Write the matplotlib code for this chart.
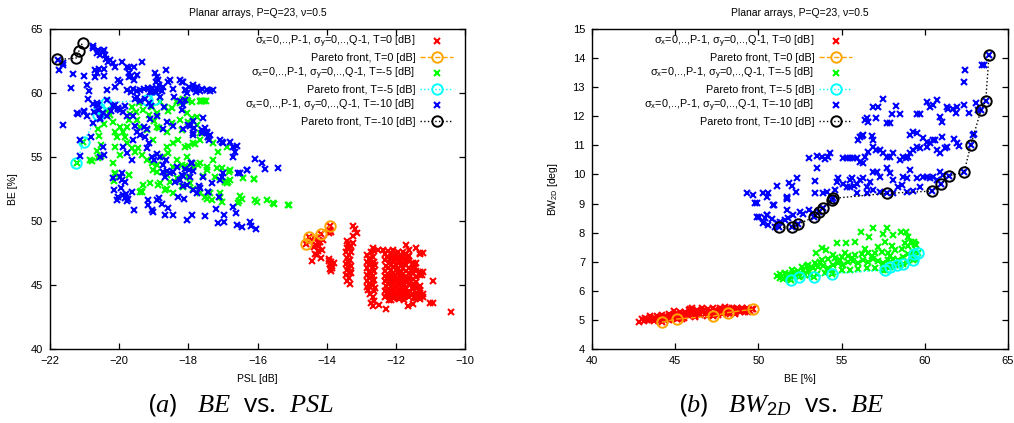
import matplotlib
matplotlib.use("Agg")
import matplotlib.pyplot as plt

plt.rcParams['font.family'] = ['Liberation Sans', 'DejaVu Sans']
plt.rcParams['mathtext.fontset'] = 'custom'
plt.rcParams['mathtext.rm'] = 'Liberation Sans'
plt.rcParams['mathtext.it'] = 'Liberation Serif:italic'
plt.rcParams['mathtext.bf'] = 'Liberation Sans:bold'

# ---------------- Panel (a): BE vs PSL ----------------
# T = 0 dB  (red)
psl_a_T0 = [-14.60, -14.50, -14.17, -13.90, -14.31, -14.24, -14.37, -14.29, -14.17, -14.19, -14.14, -14.41, -14.33, -14.22, -14.12, -14.26, -14.45, -14.35,
            -13.90, -13.92, -13.87, -13.92, -13.88, -13.90, -13.85, -13.91, -13.88, -13.80, -13.93, -13.86,
            -13.42, -13.38, -13.40, -13.43, -13.36, -13.41, -13.33, -13.43, -13.38, -13.41, -13.32, -13.43, -13.35, -13.41, -13.32, -13.30, -13.31, -13.30, -13.31, -13.37, -13.34,
            -13.23, -13.18, -13.11, -13.24, -13.24,
            -12.83, -12.78, -12.84, -12.79, -12.82, -12.77, -12.83, -12.79, -12.84, -12.78, -12.82, -12.80, -12.76, -12.74, -12.73,
            -12.66, -12.63, -12.67, -12.62, -12.66, -12.63, -12.67, -12.62, -12.66, -12.63, -12.67, -12.64, -12.66, -12.60, -12.61,
            -12.51, -12.36, -12.49, -12.28,
            -12.30, -12.31, -12.29, -12.30, -12.32, -12.30, -12.29, -12.31, -12.30,
            -12.22, -12.23, -12.21, -12.22, -12.24, -12.22, -12.21, -12.23, -12.22, -12.21,
            -12.15, -12.16, -12.14, -12.15, -12.15, -12.16, -12.14, -12.15, -12.16, -12.14,
            -12.08, -12.07, -12.09, -12.08, -12.07, -12.08, -12.09, -12.08, -12.07, -12.08,
            -12.00, -12.01, -11.99, -12.00, -12.01, -12.00, -11.99, -12.00, -12.01,
            -11.93, -11.94, -11.92, -11.93, -11.94, -11.93, -11.92, -11.93, -11.94, -11.92,
            -11.86, -11.87, -11.85, -11.86, -11.87, -11.86, -11.85, -11.86, -11.87,
            -11.78, -11.79, -11.77, -11.78, -11.79, -11.78, -11.77, -11.78, -11.79, -11.77,
            -11.70, -11.71, -11.69, -11.70, -11.71, -11.70, -11.69, -11.70, -11.71,
            -11.62, -11.63, -11.61, -11.62, -11.63, -11.62, -11.61, -11.62, -11.63, -11.64,
            -11.50, -11.51, -11.49, -11.50, -11.51, -11.50, -11.49, -11.50,
            -11.42, -11.43, -11.41, -11.42, -11.43, -11.42, -11.41, -11.42,
            -11.30, -11.29, -11.31, -11.30, -11.29, -11.31, -11.30, -11.29, -11.31,
            -11.22, -11.22, -11.23, -11.21, -11.22,
            -10.92, -11.01, -10.92, -10.41,
            -12.26, -12.18, -12.11, -12.04, -11.97, -11.90, -11.82, -11.74, -11.66, -12.26, -12.18, -12.11, -12.04, -11.97, -11.90, -11.82, -11.74, -11.66,
            -12.26, -12.18, -12.11, -12.04, -11.97, -11.90, -11.82, -11.74, -11.66, -12.72, -12.70, -12.71, -11.46, -11.46, -11.47]
be_a_T0 = [48.18, 48.77, 48.98, 49.61, 48.12, 48.26, 47.99, 47.34, 47.09, 48.38, 47.73, 46.87, 47.45, 48.05, 48.52, 47.62, 48.45, 48.60,
           49.32, 49.05, 49.15, 47.02, 46.80, 46.62, 46.45, 46.27, 46.10, 46.70, 46.90, 46.35,
           48.42, 48.18, 47.88, 47.60, 47.31, 47.08, 46.92, 46.62, 46.41, 46.18, 46.01, 45.82, 45.58, 45.32, 45.10, 45.92, 46.52, 47.58, 48.02, 46.85, 47.95,
           49.58, 49.35, 49.10, 48.80, 48.28,
           47.32, 47.05, 46.82, 46.55, 46.31, 46.02, 45.78, 45.52, 45.30, 45.08, 44.82, 44.58, 44.31, 46.70, 45.90,
           47.88, 47.62, 47.15, 46.83, 46.42, 46.12, 45.72, 45.40, 45.02, 44.52, 44.05, 43.72, 43.38, 44.80, 46.60,
           47.73, 47.73, 43.44, 43.15,
           47.40, 46.95, 46.50, 46.10, 45.70, 45.30, 44.90, 44.50, 44.10,
           47.65, 47.20, 46.75, 46.30, 45.85, 45.45, 45.05, 44.60, 44.20, 43.80,
           47.50, 47.05, 46.60, 46.20, 45.80, 45.35, 44.95, 44.55, 44.15, 43.85,
           47.70, 47.25, 46.85, 46.40, 45.95, 45.55, 45.15, 44.75, 44.30, 43.95,
           47.45, 47.00, 46.55, 46.15, 45.75, 45.30, 44.85, 44.45, 44.05,
           47.60, 47.15, 46.70, 46.25, 45.90, 45.50, 45.10, 44.65, 44.25, 43.90,
           47.35, 46.90, 46.45, 46.05, 45.65, 45.20, 44.80, 44.40, 44.00,
           47.55, 47.10, 46.65, 46.30, 45.85, 45.40, 45.00, 44.60, 44.20, 43.80,
           48.13, 47.40, 46.95, 46.55, 46.10, 45.60, 45.20, 44.70, 44.35,
           47.70, 47.25, 46.85, 46.35, 45.90, 45.45, 45.05, 44.55, 44.10, 43.36,
           46.70, 46.30, 45.90, 45.50, 45.10, 44.70, 44.30, 43.50,
           47.87, 46.70, 46.10, 45.60, 45.20, 44.80, 44.40, 44.00,
           47.50, 47.45, 46.05, 45.75, 44.90, 44.60, 44.35, 44.10, 43.90,
           47.48, 46.04, 45.80, 44.30, 44.10,
           45.34, 43.57, 43.57, 42.89,
           47.15, 46.95, 47.30, 47.05, 47.20, 46.90, 47.25, 47.05, 47.30, 45.55, 45.25, 45.60, 45.35, 45.50, 45.20, 45.60, 45.30, 45.55,
           44.35, 44.05, 44.40, 44.10, 44.30, 44.00, 44.45, 44.15, 44.35, 47.55, 45.00, 43.60, 46.30, 45.00, 44.00]

# T = -5 dB (green)
psl_a_T5 = [-20.57, -20.53, -20.84, -20.60, -20.36, -20.27, -20.17, -20.12, -20.07, -19.98, -19.88, -19.83, -19.78, -19.71, -19.69, -19.64, -19.51, -19.42, -19.30, -19.13,
            -19.06, -18.92, -18.82, -18.67, -18.58, -18.48, -18.34, -18.24, -18.05, -17.90, -17.76, -17.66, -17.61, -17.49, -17.90, -18.00, -18.05, -17.76, -17.66, -18.24,
            -18.29, -18.43, -18.63, -18.72, -18.92, -19.06, -19.20, -19.35, -19.45, -19.54, -19.64, -19.78, -19.98, -20.12, -20.12, -20.15, -19.73, -19.40, -19.11, -18.92,
            -18.63, -18.43, -18.19, -18.05, -17.86, -17.66, -17.47, -17.28, -17.18, -17.04, -16.81, -16.80, -16.41, -16.10, -16.07, -15.73, -17.66, -17.42, -17.28, -17.13,
            -16.89, -18.10, -17.86, -18.05, -18.34, -18.58, -19.01, -18.92, -18.48, -18.63, -18.19, -19.20, -19.40, -19.49,
            -16.09, -15.56, -15.11, -16.51, -16.46, -16.55, -16.79, -16.94, -17.23, -17.08, -17.32, -17.37, -17.52, -17.95, -18.00, -18.15, -18.34, -18.53, -18.67,
            -18.82, -19.01, -18.10, -17.71, -17.47, -17.58, -18.00, -17.81,
            -19.32, -19.35, -18.87, -18.63, -18.43, -18.19, -17.86, -17.66, -17.47, -17.08, -17.03, -16.89, -16.84, -16.53, -16.02, -15.52, -15.08,
            -20.65, -20.79, -20.19, -20.12, -19.71, -19.38, -20.53, -21.22, -21.05,
            -20.60, -20.52, -20.45, -18.00, -17.62, -17.55, -18.34, -18.14, -19.00, -18.85]
be_a_T5 = [56.64, 55.94, 54.77, 54.90, 58.67, 58.28, 57.76, 56.98, 56.59, 57.37, 56.98, 56.59, 57.37, 57.89, 58.36, 58.93, 58.54, 59.19, 58.67, 58.28,
           58.93, 58.41, 59.32, 58.93, 58.62, 58.80, 59.32, 59.19, 59.45, 59.32, 58.15, 59.40, 59.40, 59.40, 58.02, 57.76, 58.41, 57.50, 56.85, 57.89,
           56.33, 56.07, 55.81, 55.03, 54.38, 54.51, 54.77, 55.16, 55.68, 55.42, 55.68, 56.07, 55.16, 55.81, 53.67, 53.15, 53.59, 52.29, 53.00, 53.85,
           53.59, 54.24, 54.38, 54.11, 54.24, 54.51, 53.98, 54.77, 54.11, 54.11, 53.85, 53.20, 53.33, 53.25, 51.64, 51.64, 56.33, 56.59, 56.07, 55.42,
           55.81, 55.81, 56.07, 55.03, 54.77, 55.29, 56.33, 57.37, 57.63, 56.98, 57.11, 57.11, 57.37, 57.89,
           53.26, 51.38, 51.25, 51.95, 51.69, 51.38, 53.98, 53.07, 53.41, 51.90, 51.64, 52.16, 51.90, 52.94, 53.41, 52.68, 53.33, 53.07, 52.42,
           52.94, 53.98, 54.30, 54.38, 54.19, 53.52, 55.86, 56.02,
           52.81, 52.29, 52.81, 52.48, 52.16, 52.73, 52.48, 52.21, 51.69, 52.16, 51.51, 52.94, 53.07, 51.59, 51.51, 51.33, 51.25,
           55.50, 54.71, 54.56, 53.72, 53.59, 52.37, 55.08, 54.50, 56.15,
           57.20, 58.30, 57.60, 59.40, 59.40, 59.40, 59.40, 59.53, 57.80, 57.30]

# T = -10 dB (blue)
psl_a_T10 = [-21.76, -21.61, -21.63, -21.73, -21.40, -21.61, -21.34, -21.21, -21.02, -21.13, -21.12, -21.02, -20.92, -20.86, -20.89, -20.82, -20.75, -20.77, -20.75, -20.65,
             -20.60, -20.55, -20.46, -20.44, -20.40, -20.38, -20.70, -20.65, -20.70, -20.57, -20.44, -20.44, -20.31, -20.27, -20.17, -20.12, -19.93, -20.02, -19.98, -20.12,
             -20.34, -20.65, -20.60, -20.57, -20.55, -20.46, -20.36, -20.12, -20.02, -19.98, -19.83, -19.73, -19.71, -19.76, -19.73, -19.67, -19.57, -19.49, -19.57, -19.35,
             -19.78, -19.67, -19.59, -19.49, -19.40, -19.28, -19.16, -19.06, -18.99, -18.92, -18.77,
             -18.96, -18.92, -18.87, -18.94, -18.84, -18.72, -18.65, -18.58, -18.53, -18.45, -18.41, -18.24, -18.19, -18.14,
             -18.10, -18.05, -17.97, -17.86, -17.81, -17.76, -17.66, -17.61, -17.47, -17.37, -17.28,
             -18.19, -18.16, -18.24, -18.10, -18.00, -17.87, -17.84, -17.86, -17.57, -17.61, -17.52, -17.47, -17.45, -17.42, -17.39, -17.37,
             -17.08, -17.04, -16.99, -16.80, -16.70, -16.65, -16.70, -16.60,
             -16.07, -15.88, -15.78, -15.40, -16.31, -16.51,
             -16.55, -16.31, -17.03, -17.93, -17.90, -17.97, -17.86, -18.72, -18.63, -18.67, -18.34, -18.19, -18.10,
             -20.15, -20.02, -20.05, -19.96, -19.90, -19.83, -19.75, -19.78, -19.56, -19.16, -19.16, -19.06, -19.01, -18.91, -18.84, -18.77, -18.67, -18.58, -18.43, -18.29,
             -18.16, -18.12, -18.05, -17.90, -17.76, -17.68, -17.52, -17.42, -17.20, -17.13, -17.10, -16.97, -16.97, -16.70, -16.62, -16.58, -16.46, -16.22, -16.20, -16.04,
             -20.48, -20.55, -20.44, -20.17, -19.93, -19.83, -19.80, -19.64, -19.93, -19.98, -19.88, -19.78, -19.64, -19.59, -19.49, -19.40, -19.28, -19.25, -19.20, -19.13,
             -19.06, -18.99, -18.92, -18.82, -18.72, -18.65, -18.53, -18.43, -18.39, -18.24, -18.16, -18.05, -17.95, -17.87, -17.66, -17.57, -17.42, -17.33, -17.08, -17.01,
             -19.54, -19.47, -19.40, -19.25, -19.11, -19.06, -18.93, -19.13, -19.09, -18.82, -18.70, -19.59, -19.76, -19.88, -20.02, -20.17, -20.25, -20.36, -20.55, -20.73,
             -20.77, -20.65, -20.94, -21.02, -21.18, -19.54, -19.20, -19.11, -18.92, -18.72, -18.61, -18.43, -18.14, -17.95, -17.86, -17.61, -17.78, -17.84, -17.47, -18.07]
be_a_T10 = [62.58, 62.37, 62.19, 61.80, 60.36, 57.50, 61.48, 58.41, 58.54, 56.33, 55.08, 61.33, 60.63, 60.18, 59.50, 56.59, 57.63, 63.67, 63.49, 63.10,
            63.36, 62.97, 63.23, 63.36, 63.00, 62.63, 61.28, 61.54, 61.80, 61.85, 61.85, 61.33, 62.45, 62.58, 62.32, 62.06, 62.45, 61.02, 60.89, 60.50,
            60.23, 59.19, 59.06, 58.67, 58.02, 58.41, 59.45, 59.06, 58.80, 58.67, 58.98, 61.93, 61.54, 62.06, 61.22, 61.33, 62.06, 61.41, 61.02, 62.45,
            60.23, 60.10, 60.29, 60.18, 60.23, 60.29, 60.36, 60.10, 60.18, 60.29, 60.18,
            61.54, 61.28, 61.02, 60.89, 60.63, 60.44, 61.80, 60.89, 61.02, 60.29, 59.71, 61.02, 60.89, 60.89,
            60.23, 59.97, 60.50, 60.63, 60.29, 60.44, 60.18, 60.29, 60.23, 60.18, 60.23,
            58.67, 59.06, 59.40, 59.45, 57.50, 57.84, 57.24, 56.85, 58.02, 57.11, 57.24, 56.98, 56.85, 56.59, 56.33, 56.72,
            56.33, 56.20, 56.07, 56.20, 55.81, 55.42, 55.03, 55.86,
            54.82, 54.51, 54.04, 54.11, 54.00, 53.78,
            53.77, 53.98, 53.41, 54.51, 54.55, 53.98, 53.93, 53.85, 53.91, 53.46, 54.24, 53.59, 54.04,
            52.42, 51.85, 51.64, 52.55, 52.03, 51.77, 51.69, 51.59, 50.86, 51.64, 51.25, 50.86, 50.73, 51.64, 51.77, 51.33, 50.47, 50.99, 50.47, 51.90,
            52.73, 51.69, 50.08, 50.47, 52.16, 52.73, 50.39, 52.29, 50.91, 49.82, 51.90, 49.95, 50.47, 51.12, 50.60, 49.69, 49.56, 49.95, 49.61, 49.35,
            55.81, 55.03, 55.16, 53.33, 53.20, 53.07, 52.11, 52.29, 53.72, 53.46, 55.81, 55.29, 54.77, 56.33, 56.98, 56.72, 57.37, 56.59, 55.68, 56.07,
            55.03, 54.77, 55.23, 55.03, 54.38, 54.77, 53.72, 53.85, 53.07, 53.20, 53.52, 52.81, 53.46, 52.42, 52.55, 53.46, 52.29, 52.94, 53.20, 53.72,
            59.53, 59.66, 59.40, 59.53, 60.05, 60.36, 60.10, 59.22, 58.96, 59.66, 58.88, 58.23, 58.18, 58.49, 58.75, 58.96, 58.62, 58.18, 57.97, 58.49,
            59.14, 59.06, 58.23, 58.62, 58.36, 57.40, 57.19, 57.97, 58.18, 57.19, 57.76, 57.45, 57.19, 57.40, 56.72, 56.88, 60.05, 60.36, 60.26, 60.26]

# Pareto fronts, panel (a)
psl_a_P0 = [-14.60, -14.50, -14.17, -13.90]
be_a_P0 = [48.18, 48.77, 48.98, 49.61]
psl_a_P5 = [-21.24, -21.03, -20.62, -20.57, -20.38, -19.20, -18.96]
be_a_P5 = [54.50, 56.15, 58.28, 58.80, 59.24, 59.45, 59.52]
psl_a_P10 = [-21.79, -21.25, -21.16, -21.06]
be_a_P10 = [62.63, 62.71, 63.30, 63.93]

# ---------------- Panel (b): BW2D vs BE ----------------
be_b_T0 = [42.85, 43.10, 43.20, 43.40, 43.50, 43.60, 43.75, 43.90, 44.00, 44.15, 44.20, 44.35, 44.50, 44.60, 44.70, 44.85, 45.00, 45.10, 45.20, 45.30,
           45.40, 45.50, 45.60, 45.70, 45.80, 45.90, 46.00, 46.10, 46.20, 46.30, 46.40, 46.50, 46.60, 46.70, 46.80, 46.90, 47.00, 47.10, 47.20, 47.30,
           47.40, 47.50, 47.60, 47.70, 47.80, 47.90, 48.00, 48.10, 48.20, 48.30, 48.40, 48.50, 48.60, 48.70, 48.80, 48.90, 49.00, 49.10, 49.20, 49.30,
           49.40, 49.50, 49.60, 43.30, 44.10, 44.90, 45.50, 46.25, 47.05, 47.80, 48.55, 49.35, 45.80, 46.60, 47.45, 48.25, 44.60, 45.40, 46.20, 47.00,
           47.80, 48.60, 49.40, 44.90, 46.00, 44.19, 45.09, 47.29, 48.15, 49.66, 43.00, 43.80, 44.40, 45.25, 46.45, 47.60, 48.90]
bw_b_T0 = [4.93, 4.95, 5.05, 4.98, 5.12, 5.04, 4.96, 5.15, 5.06, 4.98, 5.18, 5.10, 5.02, 5.20, 5.12, 5.05, 5.22, 5.14, 5.06, 5.26,
           5.17, 5.08, 5.28, 5.20, 5.12, 5.38, 5.30, 5.22, 5.14, 5.35, 5.26, 5.18, 5.40, 5.31, 5.22, 5.15, 5.38, 5.30, 5.22, 5.42,
           5.33, 5.25, 5.18, 5.40, 5.32, 5.24, 5.43, 5.35, 5.27, 5.20, 5.40, 5.32, 5.25, 5.42, 5.35, 5.28, 5.40, 5.33, 5.26, 5.41,
           5.35, 5.30, 5.38, 5.00, 5.10, 5.15, 5.20, 5.26, 5.28, 5.36, 5.36, 5.32, 5.33, 5.30, 5.33, 5.40, 4.98, 5.04, 5.10, 5.17,
           5.22, 5.22, 5.28, 5.30, 5.40, 4.92, 5.03, 5.13, 5.25, 5.37, 5.02, 5.08, 5.14, 5.12, 5.24, 5.28, 5.34]

be_b_T5 = [51.10, 51.30, 51.50, 51.70, 51.90, 52.20, 52.50, 52.80, 53.10, 53.50, 54.00, 54.50, 55.00, 55.50, 56.00, 56.50, 57.00, 57.50, 58.00, 58.50, 59.00, 59.40,
           51.30, 51.60, 51.90, 52.10, 52.40, 52.70, 53.00, 53.30, 53.60, 53.90, 54.20, 54.50, 54.80, 55.10, 55.40, 55.70, 56.00, 56.30, 56.60, 56.90, 57.20, 57.50,
           57.80, 58.10, 58.40, 58.70, 59.00, 59.30,
           52.00, 52.60, 53.00, 53.40, 53.80, 54.20, 54.60, 55.00, 55.40, 55.80, 56.20, 56.60, 57.00, 57.40, 57.80, 58.20, 58.60, 59.00, 59.40, 55.20, 56.40, 57.20, 58.00, 58.80,
           53.44, 53.80, 54.06, 54.46, 54.74, 55.27, 55.81, 56.17, 56.66, 56.90, 57.47, 57.60, 57.71, 58.10, 58.55, 58.87, 59.00, 59.20, 59.35, 59.47, 59.50,
           51.96, 52.44, 53.36, 54.42, 57.61, 57.91, 58.31, 58.71, 59.31, 59.37, 59.61, 54.90, 55.60, 56.80, 57.90, 53.70, 52.90]
bw_b_T5 = [6.50, 6.45, 6.42, 6.45, 6.42, 6.50, 6.52, 6.55, 6.55, 6.58, 6.62, 6.65, 6.70, 6.72, 6.75, 6.78, 6.78, 6.72, 6.82, 6.90, 7.00, 7.10,
           6.58, 6.60, 6.55, 6.62, 6.68, 6.72, 6.70, 6.78, 6.82, 6.85, 6.80, 6.90, 6.95, 6.88, 6.98, 7.02, 6.95, 7.05, 6.98, 7.08, 7.02, 6.95,
           7.05, 7.10, 7.05, 7.15, 7.25, 7.35,
           6.72, 6.82, 6.90, 6.95, 7.05, 7.10, 7.12, 7.15, 7.18, 7.22, 7.25, 7.30, 7.30, 7.35, 7.30, 7.40, 7.45, 7.55, 7.60, 7.30, 7.45, 7.50, 7.55, 7.65,
           7.31, 7.46, 7.40, 7.23, 7.65, 7.65, 7.69, 8.03, 7.86, 8.15, 7.95, 7.69, 8.15, 7.92, 8.01, 8.01, 7.84, 7.69, 7.69, 7.58, 7.40,
           6.37, 6.49, 6.49, 6.59, 6.72, 6.81, 6.88, 6.93, 7.05, 7.27, 7.29, 7.05, 7.12, 7.18, 7.20, 6.98, 6.85]

be_b_T10 = [49.33, 49.65, 49.80, 49.94, 50.30, 50.60, 50.50, 50.94, 51.14, 51.70, 51.74, 51.86, 52.00, 52.34, 53.40, 53.40, 53.50, 53.06, 53.50, 53.80,
            54.00, 54.20, 54.30, 55.10, 55.30, 55.50, 55.70, 55.90, 56.10, 56.30, 56.40, 56.60, 56.90, 57.05, 57.30, 57.50, 57.75, 57.90, 58.10, 58.50,
            58.70, 58.87, 59.00, 59.10, 59.31, 59.51, 59.71, 60.11, 60.31, 60.51, 60.71, 60.91, 61.21, 61.31, 61.91, 62.07,
            56.00, 56.10, 56.20, 56.30, 56.90, 56.80, 59.11, 59.31, 59.51, 59.91, 60.11, 60.61, 61.01, 61.75,
            56.40, 56.50, 56.60, 57.07, 56.90, 57.20, 57.47, 57.71, 57.91, 58.01, 58.27, 58.51, 59.51, 59.71, 60.11, 60.31, 60.51, 60.71, 60.91, 61.01,
            61.31, 61.41, 61.71, 61.87, 61.91, 62.36, 62.68, 63.08, 63.42, 63.58, 62.42, 62.38,
            55.10, 55.30, 55.50, 55.60, 55.74, 55.90, 56.10, 56.30, 56.50, 56.70, 56.90, 57.10, 57.30, 57.71, 57.91, 58.11, 58.41, 58.61, 58.71, 58.91,
            59.11, 59.51, 59.71, 59.91, 60.11, 60.31, 60.51, 60.71, 60.91, 61.11, 59.31, 58.91, 58.11, 57.31, 56.91, 56.50, 55.90, 55.50, 54.80, 54.70,
            54.60, 54.10, 53.90, 52.10, 52.50, 51.80, 51.70, 50.50, 50.40, 50.06, 50.30, 50.60, 50.80, 51.30, 51.60, 52.70, 53.06, 53.30, 51.00, 51.14,
            49.90, 50.50, 50.90, 51.70, 52.24, 51.26, 52.00, 52.40, 53.34, 53.64, 53.90, 54.40, 54.50, 57.75, 60.45, 60.95, 61.47, 62.36, 62.76, 63.38,
            63.66, 63.86, 62.90, 62.95, 63.20]
bw_b_T10 = [9.35, 9.29, 9.01, 9.03, 9.37, 9.37, 9.24, 8.95, 9.60, 9.24, 9.14, 9.72, 9.60, 9.87, 9.79, 9.37, 10.63, 10.55, 10.21, 10.61,
            10.52, 10.61, 10.73, 10.55, 10.55, 10.55, 10.55, 10.55, 10.44, 10.38, 10.61, 10.78, 10.93, 10.84, 10.84, 10.73, 10.61, 10.61, 10.73, 10.50,
            10.61, 10.55, 10.61, 10.73, 10.84, 10.96, 10.90, 10.96, 11.07, 11.18, 10.84, 10.73, 10.90, 10.96, 11.07, 10.98,
            11.18, 11.28, 11.32, 11.36, 11.18, 11.32, 11.36, 11.47, 11.41, 11.24, 11.13, 11.18, 11.30, 11.21,
            11.87, 11.93, 11.81, 11.93, 12.33, 12.33, 12.59, 11.78, 11.78, 12.08, 12.36, 12.08, 12.08, 12.08, 12.50, 12.31, 12.39, 12.56, 11.96, 11.81,
            12.31, 12.24, 12.24, 12.12, 12.31, 12.39, 12.12, 12.44, 13.76, 13.76, 13.59, 13.18,
            9.67, 9.58, 9.81, 9.87, 9.60, 9.67, 9.81, 9.87, 9.58, 9.75, 10.10, 10.10, 9.92, 10.21, 10.04, 9.81, 9.58, 9.64, 9.92, 9.87,
            10.15, 9.87, 9.58, 9.90, 9.92, 9.87, 9.92, 9.81, 10.10, 9.98, 9.44, 9.41, 9.35, 9.41, 9.47, 9.37, 9.35, 9.58, 9.87, 9.75,
            9.47, 9.41, 9.35, 8.61, 8.72, 8.49, 8.78, 8.61, 8.49, 8.53, 8.32, 8.26, 8.46, 8.38, 8.43, 8.64, 8.78, 8.66, 8.20, 8.34,
            8.53, 8.61, 8.95, 9.18, 9.41, 8.18, 8.20, 8.30, 8.53, 8.72, 8.86, 9.12, 9.18, 9.35, 9.43, 9.66, 9.96, 10.07, 11.01, 12.22,
            12.52, 14.11, 11.35, 11.40, 12.20]

# Pareto fronts, panel (b)
be_b_P0 = [44.19, 45.09, 47.29, 48.15, 49.66]
bw_b_P0 = [4.92, 5.03, 5.13, 5.25, 5.37]
be_b_P5 = [51.96, 52.44, 53.36, 54.42, 57.61, 57.91, 58.31, 58.71, 59.31, 59.37, 59.61]
bw_b_P5 = [6.37, 6.49, 6.49, 6.59, 6.72, 6.81, 6.88, 6.93, 7.05, 7.27, 7.29]
be_b_P10 = [51.26, 52.00, 52.40, 53.34, 53.64, 53.90, 54.40, 54.50, 57.75, 60.45, 60.95, 61.47, 62.36, 62.76, 63.38, 63.66, 63.86]
bw_b_P10 = [8.18, 8.20, 8.30, 8.53, 8.72, 8.86, 9.12, 9.18, 9.35, 9.43, 9.66, 9.96, 10.07, 11.01, 12.22, 12.52, 14.11]

labels = [r'σ$_\mathrm{x}$=0,..,P-1, σ$_\mathrm{y}$=0,..,Q-1, T=0 [dB]',
          'Pareto front, T=0 [dB]',
          r'σ$_\mathrm{x}$=0,..,P-1, σ$_\mathrm{y}$=0,..,Q-1, T=-5 [dB]',
          'Pareto front, T=-5 [dB]',
          r'σ$_\mathrm{x}$=0,..,P-1, σ$_\mathrm{y}$=0,..,Q-1, T=-10 [dB]',
          'Pareto front, T=-10 [dB]']
title = 'Planar arrays, P=Q=23, ν=0.5'

RED, ORANGE, GREEN, CYAN, BLUE = '#ff0000', '#ffa500', '#00ff00', '#00ffff', '#0000ff'
XMS, XMEW = 4.4, 1.5
CMS, CMEW = 7.5, 1.4

fig = plt.figure(figsize=(10.14, 4.23), dpi=100)
axa = fig.add_axes([50/1014, 74/423, 415/1014, 320/423])
axb = fig.add_axes([592/1014, 74/423, 416/1014, 320/423])


def draw(ax, series):
    handles = []
    for kind, x, y, col, ls in series:
        if kind == 'x':
            h, = ax.plot(x, y, linestyle='none', marker='x', ms=XMS, mew=XMEW, color=col)
        else:
            h, = ax.plot(x, y, linestyle=ls, lw=1.0, marker='o', ms=CMS, mew=CMEW,
                         mfc='none', mec=col, color=col)
        handles.append(h)
    return handles


ha = draw(axa, [('x', psl_a_T0, be_a_T0, RED, None),
                ('p', psl_a_P0, be_a_P0, ORANGE, '--'),
                ('x', psl_a_T5, be_a_T5, GREEN, None),
                ('p', psl_a_P5, be_a_P5, CYAN, ':'),
                ('x', psl_a_T10, be_a_T10, BLUE, None),
                ('p', psl_a_P10, be_a_P10, 'black', ':')])
hb = draw(axb, [('x', be_b_T0, bw_b_T0, RED, None),
                ('p', be_b_P0, bw_b_P0, ORANGE, '--'),
                ('x', be_b_T5, bw_b_T5, GREEN, None),
                ('p', be_b_P5, bw_b_P5, CYAN, ':'),
                ('x', be_b_T10, bw_b_T10, BLUE, None),
                ('p', be_b_P10, bw_b_P10, 'black', ':')])

for ax in (axa, axb):
    for s in ax.spines.values():
        s.set_linewidth(1.0)
    ax.tick_params(direction='in', length=4, width=0.9, top=True, right=True, labelsize=8, pad=5)
    ax.set_title(title, fontsize=7.5, pad=9)

axa.set_xlim(-22, -10)
axa.set_ylim(40, 65)
axa.set_xticks(range(-22, -9, 2))
axa.set_yticks(range(40, 66, 5))
axa.set_xlabel('PSL [dB]', fontsize=7.5, labelpad=6)
axa.set_ylabel('BE [%]', fontsize=7.5, labelpad=9)

axb.set_xlim(40, 65)
axb.set_ylim(4, 15)
axb.set_xticks(range(40, 66, 5))
axb.set_yticks(range(4, 16, 1))
axb.set_xlabel('BE [%]', fontsize=7.5, labelpad=6)
axb.set_ylabel(r'BW$_\mathrm{2D}$ [deg]', fontsize=7.5, labelpad=9)


def legend(ax, handles, xr):
    leg = ax.legend(handles, labels, loc='upper right', bbox_to_anchor=(xr, 0.985),
                    frameon=False, markerfirst=False, fontsize=7.8, handlelength=3.1,
                    handletextpad=0.4, labelspacing=0.27, borderpad=0, borderaxespad=0)
    for t in leg.get_texts():
        t.set_ha('right')
    return leg


legend(axa, ha, 0.972)
legend(axb, hb, 0.626)

fig.text(241/1014, 1 - 405/423, r'($a$)   $BE$  vs.  $PSL$', fontsize=19, ha='center', va='center',
         family=['Open Sans', 'DejaVu Sans'])
fig.text(782/1014, 1 - 405/423, r'($b$)   $BW_{2D}$  vs.  $BE$', fontsize=19, ha='center', va='center',
         family=['Open Sans', 'DejaVu Sans'])

fig.savefig('out.png', dpi=100)
